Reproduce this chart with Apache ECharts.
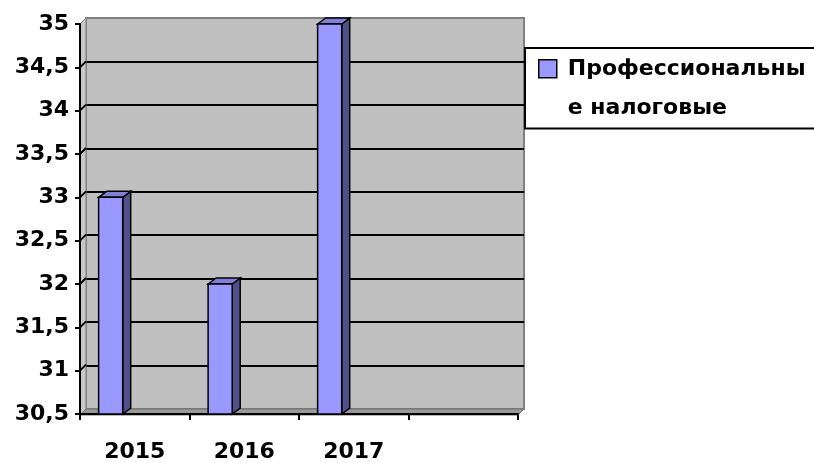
<!DOCTYPE html>
<html>
<head>
<meta charset="utf-8">
<script src="https://cdn.jsdelivr.net/npm/echarts@6/dist/echarts.min.js"></script>
<style>
  html, body { margin: 0; padding: 0; background: #fff; }
  #chart { width: 814px; height: 463px; }
</style>
</head>
<body>
<div id="chart"></div>
<script>
// данные
var categories = ['2015', '2016', '2017', ''];
var values = [33, 32, 35];
var seriesName = 'Профессиональные налоговые';
var yMin = 30.5, yMax = 35, yStep = 0.5;

// 3D глубина
var dx = 6, dy = 6;
var front = { left: 80, top: 24, width: 438, height: 391 };
var font = 'DejaVu Sans';

var barData = values.map(function (v, i) { return [i, v]; });

function renderBar(params, api) {
    var top = api.coord([api.value(0), api.value(1)]);
    var bottom = api.coord([api.value(0), yMin]);
    var band = api.size([1, 0])[0];
    var w = band * 0.22;
    var x0 = top[0] - band * 0.22 - w / 2;
    var x1 = x0 + w;
    var y0 = top[1], y1 = bottom[1];
    var bdx = 8, bdy = 6;
    return {
        type: 'group',
        children: [
            { type: 'polygon', shape: { points: [[x1, y0], [x1 + bdx, y0 - bdy], [x1 + bdx, y1 - bdy], [x1, y1]] },
              style: { fill: '#50508a', stroke: '#000', lineWidth: 1.5 } },
            { type: 'polygon', shape: { points: [[x0, y0], [x0 + bdx, y0 - bdy], [x1 + bdx, y0 - bdy], [x1, y0]] },
              style: { fill: '#8080d8', stroke: '#000', lineWidth: 1.5 } },
            { type: 'rect', shape: { x: x0, y: y0, width: w, height: y1 - y0 },
              style: { fill: '#9999ff', stroke: '#000', lineWidth: 1.5 } }
        ]
    };
}

var chart = echarts.init(document.getElementById('chart'));
var option = {
    animation: false,
    textStyle: { fontFamily: font },
    grid: [
        { left: front.left, top: front.top, width: front.width, height: front.height },
        { // задняя стенка
            left: front.left + dx, top: front.top - dy, width: front.width, height: front.height,
            show: true, backgroundColor: '#c0c0c0', borderColor: '#808080', borderWidth: 2
        }
    ],
    legend: {
        left: 525, top: 48,
        orient: 'vertical',
        padding: [1, 80, 0, 13],
        borderColor: '#000', borderWidth: 2,
        itemWidth: 24, itemHeight: 78,
        icon: 'path://M0,0M0,10h18v18h-18zM24,78',
        itemStyle: { borderColor: '#000', borderWidth: 1.5 },
        formatter: function () { return 'Профессиональны\nе налоговые'; },
        textStyle: { fontFamily: font, fontWeight: 'bold', fontSize: 22, color: '#000', lineHeight: 39 },
        data: [seriesName]
    },
    xAxis: [
        {
            type: 'category', gridIndex: 0, data: categories, z: 3,
            axisLine: { lineStyle: { color: '#000', width: 2 } },
            axisTick: { show: true, length: 6, lineStyle: { color: '#000', width: 2 } },
            axisLabel: { margin: 27, color: '#000', fontWeight: 'bold', fontSize: 22, fontFamily: font }
        },
        { type: 'category', gridIndex: 1, data: categories, show: false }
    ],
    yAxis: [
        {
            type: 'value', gridIndex: 0, min: yMin, max: yMax, interval: yStep, z: 3,
            axisLine: { show: true, lineStyle: { color: '#000', width: 2 } },
            axisTick: { show: true, length: 5, lineStyle: { color: '#000', width: 2 } },
            splitLine: { show: false },
            axisLabel: {
                margin: 11, color: '#000', fontWeight: 'bold', fontSize: 22, fontFamily: font,
                formatter: function (v) { return String(v).replace('.', ','); }
            }
        },
        {
            type: 'value', gridIndex: 1, min: yMin, max: yMax, interval: yStep,
            axisLine: { show: false }, axisTick: { show: false }, axisLabel: { show: false },
            splitLine: { show: true, showMinLine: false, showMaxLine: false, lineStyle: { color: '#000', width: 2 } }
        }
    ],
    series: [
        {
            name: seriesName,
            type: 'custom',
            xAxisIndex: 0, yAxisIndex: 0,
            z: 5,
            itemStyle: { color: '#9999ff' },
            encode: { x: 0, y: 1 },
            renderItem: renderBar,
            data: barData
        }
    ]
};
chart.setOption(option);

// боковая стенка, пол и наклонные штрихи
var L = front.left, T = front.top, B = front.top + front.height, R = front.left + front.width;
var walls = [
    { type: 'polygon', z: 1, shape: { points: [[L, T], [L + dx, T - dy], [L + dx, B - dy], [L, B]] },
      style: { fill: '#c8c8c8', stroke: '#808080', lineWidth: 1 } },
    { type: 'polygon', z: 1, shape: { points: [[L, B], [L + dx, B - dy], [R + dx, B - dy], [R, B]] },
      style: { fill: '#9a9a9a', stroke: '#707070', lineWidth: 1 } }
];
for (var v = yMin + yStep; v < yMax; v += yStep) {
    var py = chart.convertToPixel({ yAxisIndex: 0 }, v);
    walls.push({ type: 'line', z: 2, shape: { x1: L, y1: py, x2: L + dx, y2: py - dy },
                 style: { stroke: '#000', lineWidth: 2 } });
}
chart.setOption({ graphic: walls });
</script>
</body>
</html>
